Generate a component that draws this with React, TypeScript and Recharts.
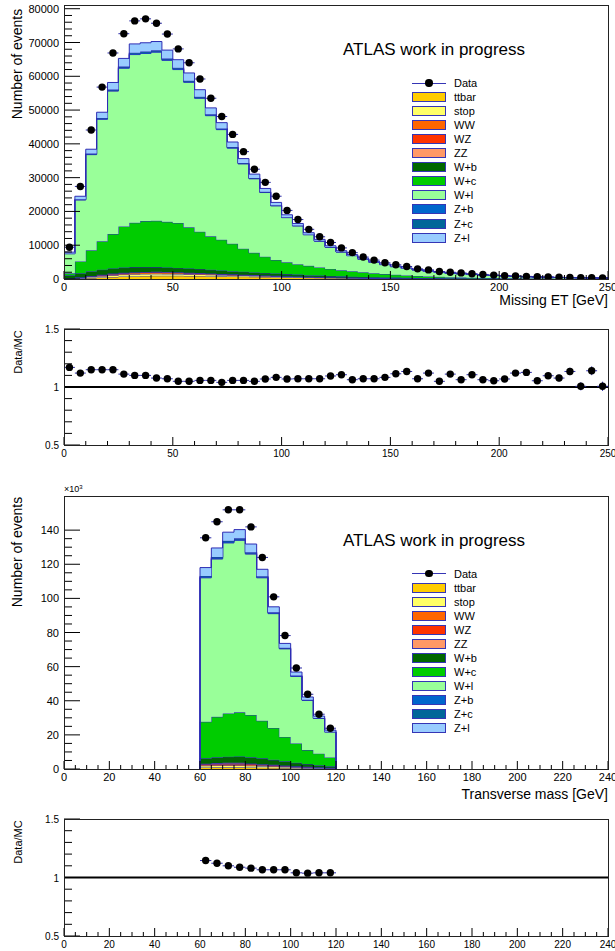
import React from 'react';
import { ComposedChart, Area, Scatter, ErrorBar, XAxis, YAxis, ReferenceLine } from 'recharts';

const FONT = '"Liberation Sans", Arial, Helvetica, sans-serif';
const OUTLINE = '#2d2db4';
const ERRCOL = '#2b2ba6';

// ---- Missing ET: 50 bins of 5 GeV from 0, values in thousands of events ----
const metLow = 0;
const metWidth = 5;
const metData = [
  9.4, 27.4, 44.1, 56.8, 66.9, 72.6, 76.4, 77.0, 75.7, 72.5,
  68.1, 64.0, 59.2, 53.5, 48.1, 42.8, 37.7, 32.5, 28.6, 24.5,
  20.3, 17.6, 14.7, 12.5, 10.8, 9.2, 7.8, 6.5, 5.6, 4.8,
  4.2, 3.7, 3.0, 2.7, 2.2, 2.0, 1.8, 1.55, 1.35, 1.15,
  1.0, 0.88, 0.77, 0.65, 0.58, 0.5, 0.45, 0.4, 0.35, 0.3,
];
const metTtbar = [
  0.05, 0.15, 0.3, 0.45, 0.6, 0.75, 0.85, 0.9, 0.95, 0.95,
  0.95, 0.9, 0.9, 0.85, 0.8, 0.75, 0.7, 0.65, 0.6, 0.55,
  0.5, 0.45, 0.4, 0.36, 0.32, 0.29, 0.26, 0.23, 0.2, 0.18,
  0.16, 0.14, 0.12, 0.11, 0.1, 0.09, 0.08, 0.07, 0.06, 0.055,
  0.05, 0.045, 0.04, 0.035, 0.03, 0.028, 0.025, 0.022, 0.02, 0.018,
];
const metStop = [
  0.05, 0.15, 0.3, 0.4, 0.5, 0.55, 0.58, 0.6, 0.58, 0.55,
  0.52, 0.48, 0.44, 0.4, 0.36, 0.32, 0.29, 0.26, 0.23, 0.2,
  0.18, 0.16, 0.14, 0.12, 0.11, 0.1, 0.09, 0.08, 0.07, 0.06,
  0.055, 0.05, 0.045, 0.04, 0.035, 0.03, 0.028, 0.025, 0.022, 0.02,
  0.018, 0.016, 0.014, 0.012, 0.011, 0.01, 0.009, 0.008, 0.007, 0.006,
];
const metWW = [
  0.05, 0.12, 0.2, 0.28, 0.34, 0.38, 0.4, 0.4, 0.39, 0.37,
  0.35, 0.32, 0.29, 0.26, 0.23, 0.2, 0.18, 0.16, 0.14, 0.12,
  0.1, 0.09, 0.08, 0.07, 0.06, 0.05, 0.045, 0.04, 0.035, 0.03,
  0.026, 0.023, 0.02, 0.018, 0.016, 0.014, 0.012, 0.01, 0.009, 0.008,
  0.007, 0.006, 0.005, 0.005, 0.004, 0.004, 0.003, 0.003, 0.003, 0.002,
];
const metWZ = [
  0.02, 0.05, 0.08, 0.1, 0.12, 0.14, 0.15, 0.15, 0.15, 0.14,
  0.13, 0.12, 0.11, 0.1, 0.09, 0.08, 0.07, 0.06, 0.055, 0.05,
  0.045, 0.04, 0.035, 0.03, 0.027, 0.024, 0.021, 0.018, 0.016, 0.014,
  0.012, 0.011, 0.01, 0.009, 0.008, 0.007, 0.006, 0.005, 0.005, 0.004,
  0.004, 0.003, 0.003, 0.003, 0.002, 0.002, 0.002, 0.002, 0.001, 0.001,
];
const metZZ = [
  0.01, 0.02, 0.03, 0.04, 0.05, 0.05, 0.05, 0.05, 0.05, 0.05,
  0.04, 0.04, 0.04, 0.03, 0.03, 0.03, 0.02, 0.02, 0.02, 0.02,
  0.01, 0.01, 0.01, 0.01, 0.01, 0.005, 0.005, 0.004, 0.004, 0.003,
  0.003, 0.003, 0.002, 0.002, 0.002, 0.002, 0.001, 0.001, 0.001, 0.001,
  0.001, 0.001, 0.001, 0.001, 0.001, 0, 0, 0, 0, 0,
];
const metWb = [
  0.9, 1.2, 1.4, 1.5, 1.5, 1.5, 1.5, 1.45, 1.4, 1.35,
  1.3, 1.25, 1.2, 1.1, 1.0, 0.95, 0.9, 0.8, 0.75, 0.7,
  0.62, 0.55, 0.48, 0.42, 0.37, 0.32, 0.28, 0.25, 0.22, 0.19,
  0.17, 0.15, 0.13, 0.11, 0.1, 0.09, 0.08, 0.07, 0.06, 0.05,
  0.045, 0.04, 0.035, 0.03, 0.027, 0.024, 0.021, 0.019, 0.017, 0.015,
];
const metWc = [
  0.6, 3.5, 6.2, 8.4, 10.2, 12.2, 13.1, 13.6, 13.7, 13.5,
  13.3, 12.2, 11.0, 9.9, 9.1, 8.1, 6.8, 5.8, 4.8, 4.0,
  3.5, 3.1, 2.75, 2.4, 2.1, 1.8, 1.6, 1.38, 1.16, 0.98,
  0.83, 0.68, 0.57, 0.46, 0.39, 0.32, 0.24, 0.2, 0.16, 0.13,
  0.11, 0.09, 0.07, 0.055, 0.046, 0.032, 0.03, 0.026, 0.022, 0.018,
];
const metWl = [
  5.8, 18.2, 28.3, 36.1, 42.3, 46.8, 49.8, 49.6, 49.9, 47.8,
  45.4, 42.9, 39.5, 35.7, 32.6, 28.3, 25.1, 21.9, 19.0, 16.0,
  13.2, 11.3, 9.2, 7.8, 6.4, 5.4, 4.6, 3.9, 3.3, 2.8,
  2.4, 2.06, 1.78, 1.55, 1.35, 1.2, 1.1, 0.97, 0.87, 0.77,
  0.67, 0.57, 0.5, 0.45, 0.39, 0.34, 0.3, 0.28, 0.24, 0.22,
];
const metZb = [
  0.03, 0.09, 0.13, 0.17, 0.2, 0.23, 0.24, 0.25, 0.25, 0.24,
  0.23, 0.21, 0.2, 0.18, 0.16, 0.14, 0.12, 0.11, 0.09, 0.08,
  0.07, 0.06, 0.05, 0.04, 0.035, 0.03, 0.025, 0.02, 0.018, 0.015,
  0.013, 0.011, 0.01, 0.008, 0.007, 0.006, 0.006, 0.005, 0.004, 0.004,
  0.003, 0.003, 0.002, 0.002, 0.002, 0.002, 0.001, 0.001, 0.001, 0.001,
];
const metZc = [
  0.04, 0.11, 0.17, 0.22, 0.26, 0.29, 0.31, 0.32, 0.32, 0.3,
  0.29, 0.27, 0.25, 0.23, 0.21, 0.18, 0.16, 0.14, 0.12, 0.1,
  0.085, 0.074, 0.062, 0.053, 0.044, 0.037, 0.033, 0.027, 0.023, 0.02,
  0.017, 0.015, 0.013, 0.011, 0.009, 0.008, 0.008, 0.006, 0.006, 0.005,
  0.004, 0.004, 0.003, 0.003, 0.002, 0.002, 0.002, 0.002, 0.001, 0.001,
];
const metZl = [
  0.4, 0.9, 1.3, 1.7, 2.1, 2.4, 2.6, 2.6, 2.6, 2.5,
  2.4, 2.3, 2.1, 1.9, 1.7, 1.5, 1.3, 1.15, 1.0, 0.85,
  0.7, 0.6, 0.5, 0.43, 0.36, 0.31, 0.27, 0.23, 0.19, 0.16,
  0.14, 0.12, 0.1, 0.09, 0.08, 0.07, 0.06, 0.05, 0.047, 0.04,
  0.035, 0.03, 0.025, 0.023, 0.02, 0.017, 0.015, 0.015, 0.012, 0.011,
];
const metRatio = [
  1.169, 1.12, 1.149, 1.149, 1.149, 1.111, 1.1, 1.1, 1.077, 1.071,
  1.049, 1.049, 1.057, 1.057, 1.04, 1.057, 1.057, 1.049, 1.069, 1.083,
  1.069, 1.071, 1.071, 1.071, 1.095, 1.106, 1.063, 1.071, 1.071, 1.083,
  1.114, 1.134, 1.071, 1.12, 1.049, 1.111, 1.063, 1.106, 1.063, 1.054,
  1.069, 1.12, 1.126, 1.054, 1.097, 1.077, 1.134, 1.006, 1.14, 1.006,
];
const metRatioErr = [
  0.004, 0.004, 0.004, 0.004, 0.004, 0.004, 0.004, 0.004, 0.004, 0.004,
  0.004, 0.004, 0.004, 0.004, 0.004, 0.004, 0.004, 0.004, 0.004, 0.004,
  0.005, 0.005, 0.005, 0.005, 0.006, 0.006, 0.006, 0.007, 0.007, 0.008,
  0.008, 0.008, 0.01, 0.01, 0.012, 0.012, 0.014, 0.015, 0.016, 0.018,
  0.02, 0.022, 0.024, 0.026, 0.028, 0.03, 0.032, 0.035, 0.038, 0.04,
];

// ---- Transverse mass: 12 bins of 5 GeV from 60, values in thousands of events ----
const mtLow = 60;
const mtWidth = 5;
const mtData = [135.5, 144.9, 151.9, 151.9, 141.9, 124.0, 100.9, 78.2, 59.2, 43.8, 32.1, 23.9];
const mtTtbar = [0.9, 1.0, 1.0, 1.0, 0.9, 0.8, 0.7, 0.6, 0.5, 0.4, 0.3, 0.25];
const mtStop = [1.0, 1.1, 1.1, 1.1, 1.0, 0.9, 0.8, 0.6, 0.5, 0.4, 0.3, 0.25];
const mtWW = [0.6, 0.7, 0.8, 0.8, 0.7, 0.6, 0.5, 0.4, 0.3, 0.25, 0.2, 0.15];
const mtWZ = [0.4, 0.5, 0.5, 0.5, 0.5, 0.4, 0.35, 0.3, 0.25, 0.2, 0.15, 0.1];
const mtZZ = [0.15, 0.15, 0.2, 0.2, 0.15, 0.15, 0.1, 0.1, 0.08, 0.06, 0.05, 0.04];
const mtWb = [3.2, 3.4, 3.6, 3.7, 3.6, 3.4, 2.9, 2.5, 2.0, 1.6, 1.2, 0.8];
const mtWc = [21.4, 23.7, 25.3, 25.9, 24.8, 22.0, 18.7, 14.3, 11.3, 8.2, 6.8, 5.2];
const mtWl = [84.4, 92.5, 100.0, 100.8, 94.3, 83.8, 67.0, 51.6, 39.3, 29.1, 20.6, 14.9];
const mtZb = [0.5, 0.55, 0.55, 0.55, 0.5, 0.45, 0.35, 0.3, 0.25, 0.2, 0.15, 0.1];
const mtZc = [0.6, 0.65, 0.65, 0.65, 0.6, 0.5, 0.4, 0.35, 0.3, 0.2, 0.15, 0.1];
const mtZl = [4.9, 5.3, 5.1, 5.1, 4.8, 4.05, 3.25, 2.55, 2.05, 1.6, 1.1, 0.9];
const mtRatio = [1.145, 1.122, 1.1, 1.088, 1.08, 1.066, 1.066, 1.066, 1.04, 1.037, 1.04, 1.04];
const mtRatioErr = [0.004, 0.004, 0.004, 0.004, 0.004, 0.004, 0.004, 0.005, 0.005, 0.006, 0.007, 0.008];

// ---- axis tick labels ----
const metXMajor = [0, 50, 100, 150, 200, 250];
const metYMajor = [0, 10000, 20000, 30000, 40000, 50000, 60000, 70000, 80000];
const mtXMajor = [0, 20, 40, 60, 80, 100, 120, 140, 160, 180, 200, 220, 240];
const mtYMajor = [0, 20, 40, 60, 80, 100, 120, 140];
const ratioYMajor = [0.5, 1, 1.5];

type Proc = { key: string; label: string; color: string };
const processes: Proc[] = [
  { key: 'ttbar', label: 'ttbar', color: '#ffcc00' },
  { key: 'stop', label: 'stop', color: '#ffff66' },
  { key: 'WW', label: 'WW', color: '#ff6600' },
  { key: 'WZ', label: 'WZ', color: '#ff3300' },
  { key: 'ZZ', label: 'ZZ', color: '#ff9966' },
  { key: 'Wb', label: 'W+b', color: '#006600' },
  { key: 'Wc', label: 'W+c', color: '#00cc00' },
  { key: 'Wl', label: 'W+l', color: '#99ff99' },
  { key: 'Zb', label: 'Z+b', color: '#0066cc' },
  { key: 'Zc', label: 'Z+c', color: '#006699' },
  { key: 'Zl', label: 'Z+l', color: '#99ccff' },
];

const metStack: Record<string, number[]> = {
  ttbar: metTtbar, stop: metStop, WW: metWW, WZ: metWZ, ZZ: metZZ,
  Wb: metWb, Wc: metWc, Wl: metWl, Zb: metZb, Zc: metZc, Zl: metZl,
};
const mtStack: Record<string, number[]> = {
  ttbar: mtTtbar, stop: mtStop, WW: mtWW, WZ: mtWZ, ZZ: mtZZ,
  Wb: mtWb, Wc: mtWc, Wl: mtWl, Zb: mtZb, Zc: mtZc, Zl: mtZl,
};

// rows at bin lower edges for stepAfter areas; zeroPad closes the outline down to 0 at both ends
function histRows(lo: number, w: number, stack: Record<string, number[]>, scale: number, zeroPad: boolean) {
  const n = stack.ttbar.length;
  const row = (x: number, i: number | null) => {
    const r: any = { x };
    processes.forEach((p) => { r[p.key] = i === null ? 0 : stack[p.key][i] * scale; });
    return r;
  };
  const rows: any[] = [];
  if (zeroPad) rows.push(row(lo, null));
  for (let i = 0; i < n; i++) rows.push(row(lo + i * w, i));
  rows.push(zeroPad ? row(lo + n * w, null) : row(lo + n * w, n - 1));
  return rows;
}

function binPoints(lo: number, w: number, vals: number[], scale: number, errs?: number[]) {
  return vals.map((v, i) => ({ x: lo + (i + 0.5) * w, y: v * scale, xe: w / 2, ye: errs ? errs[i] : 0 }));
}

function steps(a: number, b: number, s: number) {
  const out: number[] = [];
  for (let v = a; v <= b + 1e-9; v += s) out.push(Math.round(v * 1000) / 1000);
  return out;
}

const isIn = (list: number[], v: number) => list.some((m) => Math.abs(m - v) < 1e-6);

const XTick = (props: any) => {
  const { x, y, payload, majors, size } = props;
  const v = payload.value;
  const major = isIn(majors, v);
  return (
    <g>
      <line x1={x} x2={x} y1={y} y2={y - (major ? 8 : 4)} stroke="#000" />
      {major && (
        <text x={x} y={y + 12} textAnchor="middle" fontSize={size} fontFamily={FONT} fill="#000">{v}</text>
      )}
    </g>
  );
};

const YTick = (props: any) => {
  const { x, y, payload, majors, size, fmt } = props;
  const v = payload.value;
  const major = isIn(majors, v);
  return (
    <g>
      <line x1={x} x2={x + (major ? 16 : 8)} y1={y} y2={y} stroke="#000" />
      {major && (
        <text x={x - 5} y={y + 4} textAnchor="end" fontSize={size} fontFamily={FONT} fill="#000">{fmt(v)}</text>
      )}
    </g>
  );
};

const dot = (p: any) => <circle cx={p.cx} cy={p.cy} r={3.7} fill="#000" />;

const metRows = histRows(metLow, metWidth, metStack, 1000, false);
const metPoints = binPoints(metLow, metWidth, metData, 1000);
const metRatioPts = binPoints(metLow, metWidth, metRatio, 1, metRatioErr);
const mtRows = histRows(mtLow, mtWidth, mtStack, 1, true);
const mtPoints = binPoints(mtLow, mtWidth, mtData, 1);
const mtRatioPts = binPoints(mtLow, mtWidth, mtRatio, 1, mtRatioErr);

function HistPanel({ rows, points, xMax, xMajor, xMinor, yMax, yMajor, yMinor, marginTop, height, xAxisH }: any) {
  return (
    <ComposedChart width={615} height={height} data={rows} margin={{ top: marginTop, right: 7, bottom: 0, left: 0 }}>
      <XAxis
        dataKey="x" type="number" domain={[0, xMax]} allowDataOverflow ticks={steps(0, xMax, xMinor)} interval={0}
        height={xAxisH} tickSize={0} tickMargin={0} axisLine={false} tickLine={false}
        tick={(p: any) => <XTick {...p} majors={xMajor} size={11} />}
      />
      <YAxis
        type="number" domain={[0, yMax]} allowDataOverflow ticks={steps(0, yMajor[yMajor.length - 1], yMinor)} interval={0}
        width={64} tickSize={0} tickMargin={0} axisLine={false} tickLine={false}
        tick={(p: any) => <YTick {...p} majors={yMajor} size={11} fmt={(v: number) => String(v)} />}
      />
      {processes.map((p) => (
        <Area
          key={p.key} dataKey={p.key} stackId="mc" type="stepAfter" fill={p.color} fillOpacity={1}
          stroke={OUTLINE} strokeWidth={1} dot={false} activeDot={false} isAnimationActive={false}
        />
      ))}
      <Scatter data={points} dataKey="y" shape={dot} isAnimationActive={false}>
        <ErrorBar dataKey="xe" direction="x" width={0} stroke={ERRCOL} strokeWidth={1} />
      </Scatter>
    </ComposedChart>
  );
}

function RatioPanel({ points, xMax, xMajor, xMinor, marginTop, height, xAxisH }: any) {
  return (
    <ComposedChart width={615} height={height} margin={{ top: marginTop, right: 7, bottom: 0, left: 0 }}>
      <XAxis
        dataKey="x" type="number" domain={[0, xMax]} allowDataOverflow ticks={steps(0, xMax, xMinor)} interval={0}
        height={xAxisH} tickSize={0} tickMargin={0} axisLine={false} tickLine={false}
        tick={(p: any) => <XTick {...p} majors={xMajor} size={10} />}
      />
      <YAxis
        type="number" domain={[0.5, 1.5]} allowDataOverflow ticks={steps(0.5, 1.5, 0.1)} interval={0}
        width={64} tickSize={0} tickMargin={0} axisLine={false} tickLine={false}
        tick={(p: any) => <YTick {...p} majors={ratioYMajor} size={10} fmt={(v: number) => String(v)} />}
      />
      <ReferenceLine y={1} stroke="#000" strokeWidth={2} />
      <Scatter data={points} dataKey="y" shape={dot} isAnimationActive={false}>
        <ErrorBar dataKey="xe" direction="x" width={0} stroke={ERRCOL} strokeWidth={1} />
        <ErrorBar dataKey="ye" direction="y" width={0} stroke={ERRCOL} strokeWidth={1} />
      </Scatter>
    </ComposedChart>
  );
}

const abs = (left: number, top: number, extra: React.CSSProperties = {}): React.CSSProperties => ({
  position: 'absolute', left, top, ...extra,
});

function Frame({ top, height }: { top: number; height: number }) {
  return (
    <div style={abs(64, top, { width: 545, height: height + 1, border: '1px solid #222', boxSizing: 'border-box', pointerEvents: 'none' })} />
  );
}

function VTitle({ text, cx, cy, size }: { text: string; cx: number; cy: number; size: number }) {
  return (
    <div style={abs(cx, cy, { transform: 'translate(-50%,-50%) rotate(-90deg)', whiteSpace: 'nowrap', fontSize: size, lineHeight: `${size + 2}px` })}>
      {text}
    </div>
  );
}

function Legend({ top }: { top: number }) {
  const rowH = 14.05;
  return (
    <div style={abs(412, top, { width: 120 })}>
      <div style={abs(0, 0, { width: 120, height: rowH })}>
        <div style={abs(0, 6.5, { width: 34, height: 1, background: '#3535b5' })} />
        <div style={abs(13.3, 3.3, { width: 7.4, height: 7.4, borderRadius: '50%', background: '#000' })} />
        <div style={abs(42, 0, { fontSize: 11, lineHeight: `${rowH}px` })}>Data</div>
      </div>
      {processes.map((p, i) => (
        <div key={p.key} style={abs(0, (i + 1) * rowH, { width: 120, height: rowH })}>
          <div style={abs(0, 2, { width: 34, height: 10, background: p.color, border: '1px solid #3535b5', boxSizing: 'border-box' })} />
          <div style={abs(42, 0, { fontSize: 11, lineHeight: `${rowH}px` })}>{p.label}</div>
        </div>
      ))}
    </div>
  );
}

export default function App() {
  return (
    <div style={{ position: 'absolute', left: 0, top: 0, width: 615, height: 951, background: '#fff', overflow: 'hidden', fontFamily: FONT, color: '#000' }}>
      <div style={abs(0, 0)}>
        <HistPanel rows={metRows} points={metPoints} xMax={250} xMajor={metXMajor} xMinor={10}
          yMax={81100} yMajor={metYMajor} yMinor={2000} marginTop={5} height={300} xAxisH={21} />
      </div>
      <Frame top={5} height={274} />
      <VTitle text="Number of events" cx={17} cy={64} size={14} />
      <div style={{ position: 'absolute', right: 7, top: 292, fontSize: 14, lineHeight: '16px', whiteSpace: 'nowrap' }}>Missing ET [GeV]</div>
      <div style={abs(343, 40, { fontSize: 17, lineHeight: '20px', whiteSpace: 'nowrap' })}>ATLAS work in progress</div>
      <Legend top={76} />

      <div style={abs(0, 320)}>
        <RatioPanel points={metRatioPts} xMax={250} xMajor={metXMajor} xMinor={10} marginTop={9} height={140} xAxisH={15} />
      </div>
      <Frame top={329} height={116} />
      <VTitle text="Data/MC" cx={18} cy={352} size={11} />

      <div style={abs(0, 490)}>
        <HistPanel rows={mtRows} points={mtPoints} xMax={240} xMajor={mtXMajor} xMinor={5}
          yMax={160} yMajor={mtYMajor} yMinor={5} marginTop={6} height={300} xAxisH={21} />
      </div>
      <Frame top={496} height={273} />
      <div style={abs(64, 484, { fontSize: 9, lineHeight: '10px', whiteSpace: 'nowrap' })}>
        ×10<sup style={{ fontSize: 6, verticalAlign: 'top', lineHeight: '6px' }}>3</sup>
      </div>
      <VTitle text="Number of events" cx={17} cy={552} size={14} />
      <div style={{ position: 'absolute', right: 7, top: 786, fontSize: 14, lineHeight: '16px', whiteSpace: 'nowrap' }}>Transverse mass [GeV]</div>
      <div style={abs(343, 531, { fontSize: 17, lineHeight: '20px', whiteSpace: 'nowrap' })}>ATLAS work in progress</div>
      <Legend top={566.7} />

      <div style={abs(0, 810)}>
        <RatioPanel points={mtRatioPts} xMax={240} xMajor={mtXMajor} xMinor={5} marginTop={9} height={141} xAxisH={15} />
      </div>
      <Frame top={819} height={117} />
      <VTitle text="Data/MC" cx={18} cy={842} size={11} />
    </div>
  );
}
